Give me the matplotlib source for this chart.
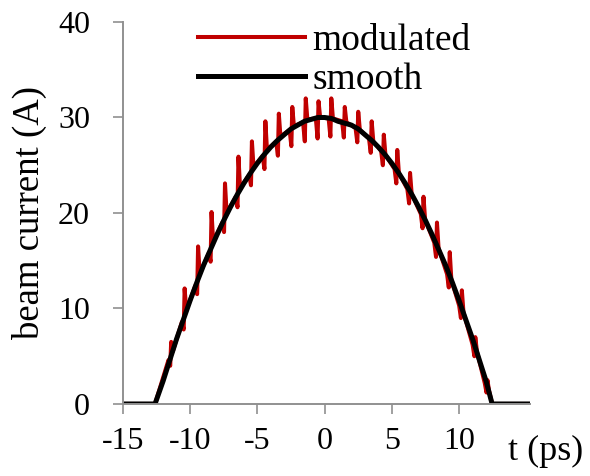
import numpy as np
import matplotlib
matplotlib.use("Agg")
import matplotlib.pyplot as plt

# smooth bunch profile
t_smooth = [-15, -12.6, -12.0, -11.5, -11.0, -10.5, -10.0, -9.5, -9.0, -8.5, -8.0,
            -7.5, -7.0, -6.5, -6.0, -5.5, -5.0, -4.5, -4.0, -3.5, -3.0, -2.5, -2.0,
            -1.5, -1.0, -0.5, 0.0, 0.5, 1.0, 1.5, 2.0, 2.5, 3.0, 3.5, 4.0, 4.5, 5.0,
            5.5, 6.0, 6.5, 7.0, 7.5, 8.0, 8.5, 9.0, 9.5, 10.0, 10.5, 11.0, 11.5,
            12.0, 12.45, 15.25]
i_smooth = [0, 0, 2.4, 4.6, 6.8, 8.8, 10.8, 12.7, 14.5, 16.1, 17.7,
            19.2, 20.6, 21.9, 23.1, 24.2, 25.2, 26.1, 26.9, 27.6, 28.2, 28.8, 29.2,
            29.6, 29.8, 30.0, 30.0, 29.9, 29.6, 29.4, 29.2, 28.8, 28.2, 27.6, 26.9, 26.1, 25.2,
            24.2, 23.1, 21.9, 20.6, 19.2, 17.7, 16.1, 14.5, 12.7, 10.8, 8.8, 6.8, 4.6,
            2.4, 0, 0]

# modulated profile: spike positions, level just before, dip, peak, level after
t_spike = [-11.4, -10.4, -9.4, -8.4, -7.4, -6.4, -5.4, -4.4, -3.4, -2.4, -1.4, -0.45,
           0.5, 1.5, 2.5, 3.5, 4.4, 5.4, 6.35, 7.35, 8.35, 9.3, 10.2, 11.2, 12.1]
i_before = [4.6, 8.6, 12.4, 15.8, 19.0, 21.7, 24.0, 26.0, 27.5, 28.7, 29.5, 29.9,
            29.9, 29.6, 28.9, 27.8, 26.5, 24.6, 22.5, 19.9, 16.9, 13.6, 10.3, 6.2, 2.2]
i_dip = [4.0, 7.8, 11.5, 14.9, 18.0, 20.6, 22.9, 24.6, 26.0, 27.0, 27.5, 27.8,
         28.0, 27.9, 27.4, 26.3, 25.0, 23.1, 21.0, 18.4, 15.4, 12.2, 9.0, 5.0, 1.2]
i_peak = [6.5, 12.1, 16.5, 20.1, 23.1, 25.9, 27.5, 29.6, 30.4, 31.1, 32.0, 31.7,
          32.0, 31.1, 30.6, 29.6, 28.2, 26.6, 24.2, 21.7, 19.0, 15.9, 11.9, 7.0, 2.5]
i_after = [5.5, 9.8, 13.6, 17.0, 20.0, 22.6, 24.8, 26.6, 28.0, 29.1, 29.8, 30.0,
           29.9, 29.5, 28.7, 27.5, 26.1, 24.2, 22.0, 19.3, 16.3, 13.0, 9.6, 5.5, 1.4]

t_mod = [-15, -12.6]
i_mod = [0, 0]
for k in range(len(t_spike)):
    t_mod += [t_spike[k] - 0.2, t_spike[k] - 0.07, t_spike[k], t_spike[k] + 0.12]
    i_mod += [i_before[k], i_dip[k], i_peak[k], i_after[k]]
t_mod += [12.45, 15.25]
i_mod += [0, 0]

plt.rcParams['font.family'] = ['Liberation Serif', 'DejaVu Serif']
plt.rcParams['axes.unicode_minus'] = False
fig = plt.figure(figsize=(5.9, 4.76), dpi=100)
ax = fig.add_axes([0.208, 0.1513, 0.69, 0.8025])

ax.plot(t_mod, i_mod, color='#C00000', lw=2.9, label='modulated')
ax.plot(t_smooth, i_smooth, color='black', lw=3.6, label='smooth')

ax.set_xlim(-15, 15.25)
ax.set_ylim(0, 40)
ax.set_xticks([-15, -10, -5, 0, 5, 10])
ax.set_yticks([0, 10, 20, 30, 40])
ax.tick_params(direction='out', length=7.5, width=1.2, color='#909090',
               labelsize=23)
ax.tick_params(axis='x', pad=9)
ax.tick_params(axis='y', pad=16)
for s in ['top', 'right']:
    ax.spines[s].set_visible(False)
for s in ['left', 'bottom']:
    ax.spines[s].set_color('#909090')
    ax.spines[s].set_linewidth(1.4)

ax.set_ylabel('beam current (A)', fontsize=26.5, labelpad=8)
ax.text(1.04, -0.08, 't (ps)', transform=ax.transAxes, fontsize=26,
        ha='center', va='top')

ax.legend(loc='upper left', bbox_to_anchor=(0.185, 0.996), frameon=False,
          fontsize=27, handlelength=2.85, handletextpad=0.2, labelspacing=0.12,
          borderpad=0, borderaxespad=0)

fig.savefig('out.png', dpi=100)
